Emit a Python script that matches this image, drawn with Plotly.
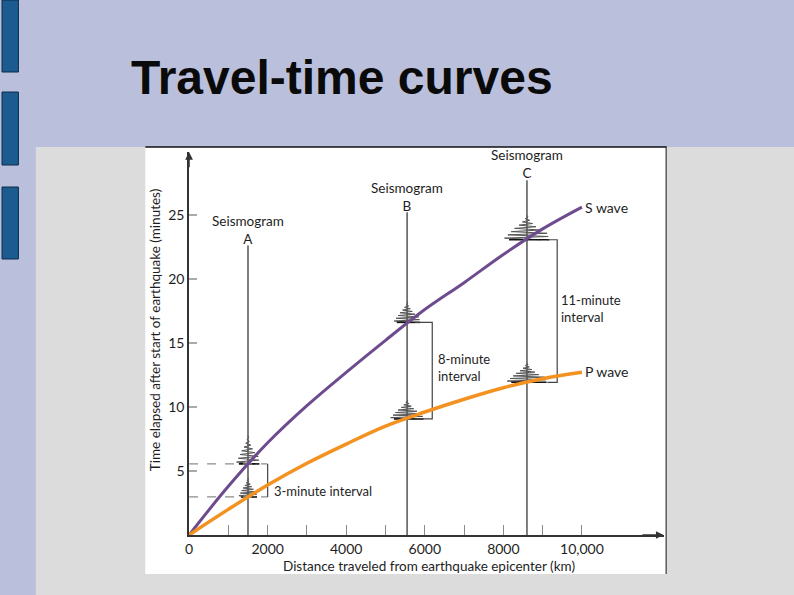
import plotly.graph_objects as go

# travel-time curves (distance in km, time in minutes)
DISTANCE_KM = [0, 1000, 2000, 3000, 4000, 5000, 6000, 7000, 8000, 9000, 10000]
S_WAVE_MIN = [0, 3.8, 7.2, 10.1, 12.7, 15.2, 17.6, 19.7, 21.9, 23.9, 25.6]
P_WAVE_MIN = [0, 2.0, 3.9, 5.6, 7.1, 8.5, 9.6, 10.6, 11.5, 12.2, 12.7]

# seismograph stations
STATION_NAMES = ["A", "B", "C"]
STATION_KM = [1500, 5550, 8600]
TRACE_TOP_MIN = [22.6, 25.2, 27.7]
P_ARRIVAL_MIN = [2.97, 9.06, 11.92]
S_ARRIVAL_MIN = [5.55, 16.6, 23.05]
INTERVAL_TEXT = ["3-minute interval", "8-minute<br>interval", "11-minute<br>interval"]

# hand-read relative amplitudes of an arrival burst, from onset upward
BURST_AMP = [0.6, -1.0, 0.95, -0.85, 0.9, -0.7, 0.6, -0.55, 0.4, -0.35, 0.25, -0.2, 0.12, -0.08, 0.05, 0.0]

X_TICKS = [0, 1000, 2000, 3000, 4000, 5000, 6000, 7000, 8000, 9000, 10000]
X_TICK_TEXT = ["0", "", "2000", "", "4000", "", "6000", "", "8000", "", "10,000"]
Y_TICKS = [5, 10, 15, 20, 25]

W, H = 794, 595
FONT = "Lato, 'Open Sans', sans-serif"
TXT = "#1e1e1e"


def px(x):
    return x / W


def py(y):
    return 1 - y / H


fig = go.Figure()

# seismogram traces
for i, sx in enumerate(STATION_KM):
    fig.add_trace(go.Scatter(x=[sx, sx], y=[0, TRACE_TOP_MIN[i]], mode="lines",
                             line=dict(color="#707070", width=1.8), hoverinfo="skip"))

# arrival bursts on each seismogram
burst_style = {"A": [(230, 1.5), (290, 2.2)], "B": [(420, 1.5), (330, 1.6)], "C": [(500, 1.5), (570, 1.9)]}
for i, sx in enumerate(STATION_KM):
    for arr, (half_w, height) in zip([P_ARRIVAL_MIN[i], S_ARRIVAL_MIN[i]], burst_style[STATION_NAMES[i]]):
        n = len(BURST_AMP)
        bx = [sx + a * half_w for a in BURST_AMP]
        by = [arr + k / (n - 1) * height for k in range(n)]
        fig.add_trace(go.Scatter(x=bx, y=by, mode="lines", line=dict(color="#555555", width=1),
                                 hoverinfo="skip"))
        fig.add_trace(go.Scatter(x=[sx - half_w * 0.8, sx + half_w], y=[arr, arr], mode="lines",
                                 line=dict(color="#111111", width=1.6), hoverinfo="skip"))

# 3-minute dashed guides to the time axis
for t in [P_ARRIVAL_MIN[0], S_ARRIVAL_MIN[0]]:
    fig.add_trace(go.Scatter(x=[0, 2000], y=[t, t], mode="lines",
                             line=dict(color="#8c8c8c", width=1.2, dash="dash"), hoverinfo="skip"))

# interval brackets
bracket_x = [2000, 6190, 9370]
arm_start = [2000, 5750, 9120]
for i in range(3):
    fig.add_trace(go.Scatter(
        x=[arm_start[i], bracket_x[i], bracket_x[i], arm_start[i]],
        y=[S_ARRIVAL_MIN[i], S_ARRIVAL_MIN[i], P_ARRIVAL_MIN[i], P_ARRIVAL_MIN[i]],
        mode="lines", line=dict(color="#444444", width=1.2), hoverinfo="skip"))

# travel-time curves
fig.add_trace(go.Scatter(x=DISTANCE_KM, y=S_WAVE_MIN, mode="lines", line_shape="spline",
                         line=dict(color="#6e4b8e", width=3), name="S wave"))
fig.add_trace(go.Scatter(x=DISTANCE_KM, y=P_WAVE_MIN, mode="lines", line_shape="spline",
                         line=dict(color="#f39221", width=3.5), name="P wave"))

# slide decoration
shapes = [
    dict(type="rect", xref="paper", yref="paper", x0=px(32), x1=px(794), y0=py(595), y1=py(147),
         fillcolor="#dcdcdc", line_width=0, layer="below"),
    dict(type="rect", xref="paper", yref="paper", x0=px(142), x1=px(666), y0=py(574), y1=py(147),
         fillcolor="white", line_width=0, layer="below"),
    dict(type="line", xref="paper", yref="paper", x0=px(142), x1=px(666), y0=py(147), y1=py(147),
         line=dict(color="#111111", width=1.5), layer="below"),
    dict(type="line", xref="paper", yref="paper", x0=px(665.5), x1=px(665.5), y0=py(574), y1=py(147),
         line=dict(color="#333333", width=1.2), layer="below"),
]
for y0, y1 in [(0, 72), (92, 165), (187, 259)]:
    shapes.append(dict(type="rect", xref="paper", yref="paper", x0=px(-2), x1=px(14.5), y0=py(y1), y1=py(y0),
                       fillcolor="#1b5b8f", line=dict(color="#0d2c4a", width=1), layer="below"))

annotations = [
    dict(text="<b>Travel-time curves</b>", xref="paper", yref="paper", x=px(126), y=py(78),
         xanchor="left", yanchor="middle", showarrow=False,
         font=dict(family="Liberation Sans, Arial, sans-serif", size=48, color="#0a0a0a")),
    dict(text="Time elapsed after start of earthquake (minutes)", xref="paper", yref="paper",
         x=px(152), y=py(330), textangle=-90, showarrow=False, xanchor="center", yanchor="middle",
         font=dict(family=FONT, size=13.5, color=TXT)),
    dict(text="Distance traveled from earthquake epicenter (km)", xref="paper", yref="paper",
         x=px(427), y=py(566), showarrow=False, xanchor="center", yanchor="middle",
         font=dict(family=FONT, size=13.5, color=TXT)),
    # axis arrows
    dict(x=0, y=29.9, ax=0, ay=28.6, xref="x", yref="y", axref="x", ayref="y", text="",
         showarrow=True, arrowhead=2, arrowsize=1.1, arrowwidth=1.4, arrowcolor="#333333"),
    dict(x=12080, y=0, ax=11500, ay=0, xref="x", yref="y", axref="x", ayref="y", text="",
         showarrow=True, arrowhead=2, arrowsize=1.1, arrowwidth=1.4, arrowcolor="#333333"),
    dict(text="S wave", x=10030, y=25.6, xanchor="left", yanchor="middle", showarrow=False,
         font=dict(family=FONT, size=14, color=TXT)),
    dict(text="P wave", x=10030, y=12.8, xanchor="left", yanchor="middle", showarrow=False,
         font=dict(family=FONT, size=14, color=TXT)),
]
label_y = [23.8, 26.4, 29.0]
for i, sx in enumerate(STATION_KM):
    annotations.append(dict(text="Seismogram<br>" + STATION_NAMES[i], x=sx, y=label_y[i],
                            xanchor="center", yanchor="middle", showarrow=False,
                            font=dict(family=FONT, size=13.5, color=TXT)))
interval_pos = [(2120, 3.45), (6280, 13.1), (9420, 17.66)]
for (ix, iy), txt in zip(interval_pos, INTERVAL_TEXT):
    annotations.append(dict(text=txt, x=ix, y=iy, xanchor="left", yanchor="middle", align="left",
                            showarrow=False, font=dict(family=FONT, size=13, color=TXT)))

fig.update_layout(
    width=W, height=H,
    margin=dict(l=0, r=0, t=0, b=0),
    paper_bgcolor="#babfdb",
    plot_bgcolor="rgba(0,0,0,0)",
    showlegend=False,
    shapes=shapes,
    annotations=annotations,
    xaxis=dict(domain=[px(186), px(663)], range=[0, 12080], showgrid=False, zeroline=False,
               showline=True, linecolor="#333333", linewidth=1.5,
               ticks="inside", ticklen=10, tickcolor="#8a8a8a", tickwidth=1,
               tickvals=X_TICKS, ticktext=X_TICK_TEXT,
               tickfont=dict(family=FONT, size=14, color=TXT)),
    yaxis=dict(domain=[py(535), py(152)], range=[0, 29.9], showgrid=False, zeroline=False,
               showline=True, linecolor="#333333", linewidth=1.5,
               ticks="inside", ticklen=8, tickcolor="#aaaaaa", tickwidth=1.5,
               tickvals=Y_TICKS, tickfont=dict(family=FONT, size=14, color=TXT)),
)

fig.write_html("out.html", config={"displayModeBar": False},
               post_script="document.body.style.margin='0';document.body.style.overflow='hidden';")
